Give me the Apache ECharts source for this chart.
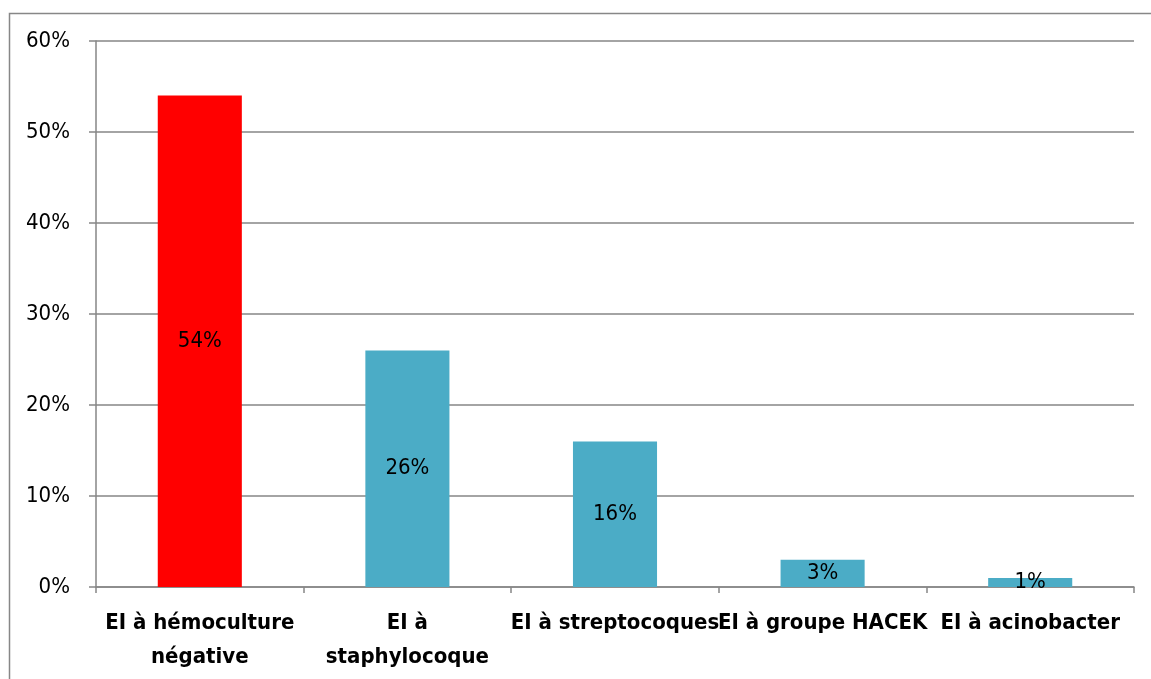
<!DOCTYPE html>
<html>
<head>
<meta charset="utf-8">
<script src="https://cdn.jsdelivr.net/npm/echarts@6/dist/echarts.min.js"></script>
<style>html,body{margin:0;padding:0;background:#fff}#c{width:1151px;height:679px}</style>
</head>
<body>
<div id="c"></div>
<script>
const categories = ["EI à hémoculture\nnégative", "EI à\nstaphylocoque", "EI à streptocoques", "EI à groupe HACEK", "EI à acinobacter"];
const values = [54, 26, 16, 3, 1];
const barColors = ["#FF0000", "#4BACC6", "#4BACC6", "#4BACC6", "#4BACC6"];
const yTicks = { min: 0, max: 60, interval: 10 };

const font = "'Liberation Sans Narrow', 'DejaVu Sans Condensed', 'Roboto Condensed', 'Arial Narrow', sans-serif";
const chart = echarts.init(document.getElementById('c'), null, { renderer: 'canvas' });
chart.setOption({
  animation: false,
  backgroundColor: '#fff',
  graphic: [{
    type: 'rect', left: 7, top: 11,
    shape: { width: 1200, height: 700 },
    style: { fill: 'none', stroke: '#878787', lineWidth: 1.5 },
    silent: true
  }],
  grid: { left: 96, right: 17, top: 41, bottom: 92, containLabel: false },
  xAxis: {
    type: 'category',
    data: categories,
    axisLine: { lineStyle: { color: '#868686', width: 1.5 } },
    axisTick: { show: true, length: 6, lineStyle: { color: '#868686', width: 1.5 } },
    axisLabel: {
      interval: 0, margin: 19, color: '#000', fontFamily: font, fontWeight: 'bold',
      fontSize: 22, lineHeight: 34
    }
  },
  yAxis: {
    type: 'value',
    min: yTicks.min, max: yTicks.max, interval: yTicks.interval,
    axisLine: { show: true, lineStyle: { color: '#868686', width: 1.5 } },
    axisTick: { show: true, length: 7, lineStyle: { color: '#868686', width: 1.5 } },
    splitLine: { lineStyle: { color: '#868686', width: 1.5 } },
    axisLabel: { formatter: '{value}%', color: '#000', fontFamily: font, fontSize: 22, margin: 26 }
  },
  series: [{
    type: 'bar',
    data: values.map((v, i) => ({ value: v, itemStyle: { color: barColors[i] } })),
    barWidth: '40.5%',
    label: {
      show: true, position: 'inside', formatter: '{c}%',
      color: '#000', fontFamily: font, fontSize: 22
    }
  }]
});
</script>
</body>
</html>
